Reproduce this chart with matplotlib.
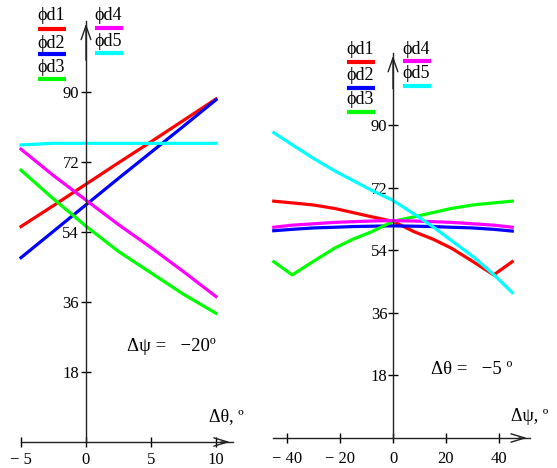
import numpy as np
import matplotlib
matplotlib.use('Agg')
import matplotlib.pyplot as plt

plt.rcParams['font.family'] = ['Liberation Serif', 'DejaVu Serif']

# Left panel: curves against delta theta (delta psi = -20)
theta = [-5, -2.5, 0, 2.5, 5, 7.5, 10]
left_d1 = [55.4, 60.8, 66.3, 71.8, 77.2, 82.7, 88.2]
left_d2 = [47.4, 54.2, 61.0, 67.8, 74.5, 81.2, 88.0]
left_d3 = [69.9, 62.5, 55.5, 49.0, 43.5, 38.0, 33.1]
left_d4 = [75.3, 68.5, 62.2, 55.9, 50.0, 43.8, 37.4]
left_d5 = [76.4, 76.8, 76.8, 76.8, 76.8, 76.8, 76.8]

# Right panel: curves against delta psi (delta theta = -5)
psi = [-45, -38, -30, -22, -15, -8, 0, 8, 15, 22, 30, 38, 45]
right_d1 = [68.1, 67.6, 67.0, 66.0, 64.8, 63.6, 62.3, 59.3, 57.2, 54.6, 50.8, 46.9, 50.7]
right_d2 = [59.6, 60.0, 60.4, 60.6, 60.8, 60.9, 61.0, 60.9, 60.8, 60.6, 60.4, 60.0, 59.5]
right_d3 = [50.7, 46.9, 50.8, 54.6, 57.2, 59.3, 62.3, 63.6, 64.8, 66.0, 67.0, 67.6, 68.1]
right_d4 = [60.6, 61.2, 61.6, 62.0, 62.2, 62.4, 62.5, 62.4, 62.2, 62.0, 61.6, 61.2, 60.6]
right_d5 = [87.8, 84.3, 80.4, 76.8, 74.0, 71.2, 68.3, 64.4, 60.8, 56.8, 52.3, 47.0, 41.8]

names = ['\u03d5d1', '\u03d5d2', '\u03d5d3', '\u03d5d4', '\u03d5d5']
colors = ['#ff0000', '#0000ff', '#00ff00', '#ff00ff', '#00ffff']
yticks = [18, 36, 54, 72, 90]

W, H = 557, 468
fig = plt.figure(figsize=(W / 100, H / 100), dpi=100)


def px_axes(left_px, right_px):
    return fig.add_axes([left_px / W, 0, (right_px - left_px) / W, 1])


def setup(ax, xlim, ylim, xbounds, ytop, xticks, xlabels, xpad, ypad):
    ax.set_xlim(*xlim)
    ax.set_ylim(*ylim)
    ax.patch.set_visible(False)
    for s in ['top', 'right']:
        ax.spines[s].set_visible(False)
    ax.spines['left'].set_position(('data', 0))
    ax.spines['bottom'].set_position(('data', 0))
    ax.spines['left'].set_bounds(0, ytop)
    ax.spines['bottom'].set_bounds(*xbounds)
    for s in ['left', 'bottom']:
        ax.spines[s].set_linewidth(1.0)
        ax.spines[s].set_color('#222222')
    ax.set_xticks(xticks)
    ax.set_xticklabels(xlabels)
    ax.set_yticks(yticks)
    ax.set_yticklabels([str(v) for v in yticks])
    ax.tick_params(axis='x', direction='inout', length=7, width=1, labelsize=12, pad=xpad)
    ax.tick_params(axis='y', direction='inout', length=7, width=1, labelsize=12, pad=ypad)
    # open arrow heads on the axes
    ax.annotate('', xy=(0, ytop), xytext=(0, ytop * 0.9),
                arrowprops=dict(arrowstyle='->,head_length=1.0,head_width=0.35', lw=1.0, color='#222222'))
    ax.annotate('', xy=(xbounds[1], 0), xytext=(xbounds[1] * 0.9, 0),
                arrowprops=dict(arrowstyle='->,head_length=1.0,head_width=0.3', lw=1.0, color='#222222'))


def legend(x1, x2, ys, lines_y):
    for i in range(5):
        col = 0 if i < 3 else 1
        row = i if i < 3 else i - 3
        x = [x1, x2][col]
        fig.text(x / W, 1 - ys[col][row] / H, names[i], fontsize=13, ha='left', va='center')
        ly = lines_y[col][row]
        fig.add_artist(plt.Line2D([(x + 1) / W, (x + 29) / W], [1 - ly / H, 1 - ly / H],
                                  color=colors[i], lw=3.0, solid_capstyle='butt'))


# left panel
sx, sy = 13.0, 70.0 / 18
ax1 = px_axes(10, 250)
setup(ax1, ((10 - 86) / sx, (250 - 86) / sx), ((442 - 468) / sy, 442 / sy),
      (-5, 11.3), 108.3, [-5, 0, 5, 10], ['\u2212 5', '0', '5', '10'], 4, 1.5)
for vals, c in zip([left_d1, left_d2, left_d3, left_d4, left_d5], colors):
    ax1.plot(theta, vals, color=c, lw=2.3)
ax1.text(10.8, 4.3, '\u0394\u03b8, \u00ba', fontsize=13, ha='center', va='bottom')
ax1.text(3.15, 24.5, '\u0394\u03c8 =   \u221220\u00ba', fontsize=13.5, ha='left', va='center')
legend(37, 94, [[16, 43, 68], [15, 41]], [[29, 54, 79], [28, 53]])

# right panel
rx, ry = 53.0 / 20, 62.6 / 18
ax2 = px_axes(262, 557)
setup(ax2, ((262 - 393) / rx, (557 - 393) / rx), ((438 - 468) / ry, 438 / ry),
      (-45.3, 51.7), 110.7, [-40, -20, 0, 20, 40],
      ['\u2212 40', '\u2212 20', '0', '20', '40'], 6, 0.5)
for vals, c in zip([right_d1, right_d2, right_d3, right_d4, right_d5], colors):
    ax2.plot(psi, vals, color=c, lw=2.3)
ax2.text(51.5, 3.8, '\u0394\u03c8, \u00ba', fontsize=13, ha='center', va='bottom')
ax2.text(14.2, 19.6, '\u0394\u03b8 =   \u22125 \u00ba', fontsize=13.5, ha='left', va='center')
legend(346, 402, [[50, 75, 100], [50, 74]], [[62, 88, 112], [61, 86]])

fig.savefig('out.png', dpi=100)
